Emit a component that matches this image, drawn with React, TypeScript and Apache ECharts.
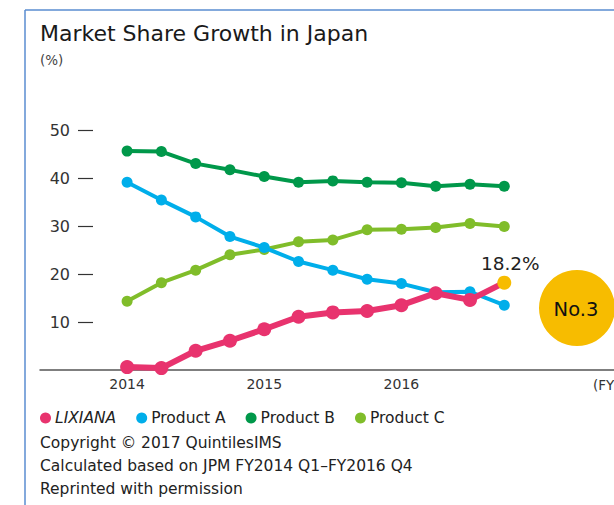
import React, { useEffect, useRef } from "react";
import * as echarts from "echarts";

const quarters = [0, 1, 2, 3, 4, 5, 6, 7, 8, 9, 10, 11];
const yearLabels = ["2014", "2015", "2016"];
const yTicks = [10, 20, 30, 40, 50];
const lixiana = [0.6, 0.4, 4.0, 6.1, 8.5, 11.1, 12.0, 12.3, 13.5, 16.0, 14.6, 18.2];
const productA = [39.1, 35.4, 31.9, 27.8, 25.5, 22.6, 20.8, 18.9, 18.0, 16.2, 16.3, 13.5];
const productB = [45.6, 45.5, 43.0, 41.7, 40.3, 39.1, 39.4, 39.1, 39.0, 38.3, 38.7, 38.3];
const productC = [14.3, 18.2, 20.8, 24.0, 25.1, 26.7, 27.1, 29.2, 29.3, 29.7, 30.5, 29.9];
const footnotes = [
  "Copyright © 2017 QuintilesIMS",
  "Calculated based on JPM FY2014 Q1–FY2016 Q4",
  "Reprinted with permission",
];

const FONT = "DejaVu Sans";
const PINK = "#e8336e";
const BLUE = "#00aeea";
const DGREEN = "#00984a";
const LGREEN = "#80bd2a";
const YELLOW = "#f7bc00";

function pairs(vals: number[]) {
  return vals.map((v, i) => [quarters[i], v]);
}

export default function App() {
  const ref = useRef<HTMLDivElement>(null);
  useEffect(() => {
    if (!ref.current) return;
    const chart = echarts.init(ref.current, undefined, { renderer: "svg" });
    const lixData: any[] = pairs(lixiana);
    const last = lixData.length - 1;
    lixData[last] = {
      value: lixData[last],
      itemStyle: { color: YELLOW },
      label: {
        show: true,
        position: "top",
        offset: [6, 2],
        formatter: (p: any) => p.value[1].toFixed(1) + "%",
        fontSize: 18.5,
        color: "#222",
        fontFamily: FONT,
      },
    };
    const mk = (name: string, color: string, data: any[], lw: number, ss: number, z: number) => ({
      name,
      type: "line",
      xAxisIndex: 0,
      yAxisIndex: 0,
      data,
      z,
      symbol: "circle",
      symbolSize: ss,
      showSymbol: true,
      lineStyle: { color, width: lw },
      itemStyle: { color },
      emphasis: { disabled: true },
    });
    chart.setOption({
      animation: false,
      textStyle: { fontFamily: FONT },
      title: {
        text: "Market Share Growth in Japan",
        left: 40,
        top: 22,
        padding: 0,
        textStyle: { fontSize: 22, fontWeight: "normal", color: "#1a1a1a", fontFamily: FONT },
      },
      grid: [
        { left: 40, right: 0, top: 130, height: 240 },
        { left: 93, right: 0, top: 130, height: 240 },
      ],
      legend: {
        left: 40,
        top: 410,
        padding: 0,
        itemWidth: 11,
        itemHeight: 11,
        itemGap: 20,
        icon: "circle",
        textStyle: { fontSize: 15.5, color: "#222", fontFamily: FONT, padding: [0, 0, 0, -1] },
        data: [
          { name: "LIXIANA", textStyle: { fontStyle: "italic" } },
          { name: "Product A" },
          { name: "Product B" },
          { name: "Product C" },
        ],
      },
      xAxis: [
        {
          gridIndex: 0,
          type: "value",
          min: -2.54,
          max: 14.2,
          splitLine: { show: false },
          axisLine: { show: true, lineStyle: { color: "#555", width: 1.5 } },
          axisTick: { show: false },
          axisLabel: {
            customValues: [0, 4, 8],
            formatter: (v: number) => yearLabels[Math.round(v / 4)] ?? "",
            fontSize: 14,
            color: "#333",
            margin: 7,
            fontFamily: FONT,
          },
        },
        { gridIndex: 1, type: "value", show: false },
      ],
      yAxis: [
        {
          gridIndex: 0,
          type: "value",
          min: 0,
          max: 50,
          show: false,
        },
        {
          gridIndex: 1,
          type: "value",
          min: 0,
          max: 50,
          splitLine: { show: false },
          axisLine: { show: false },
          axisTick: {
            show: true,
            customValues: yTicks,
            length: 15,
            lineStyle: { color: "#333", width: 1.2 },
          },
          axisLabel: {
            customValues: yTicks,
            fontSize: 16,
            color: "#333",
            margin: 23,
            fontFamily: FONT,
          },
        },
      ],
      series: [
        mk("Product B", DGREEN, pairs(productB), 4, 11, 2),
        mk("Product C", LGREEN, pairs(productC), 4, 11, 3),
        mk("Product A", BLUE, pairs(productA), 4, 11, 4),
        mk("LIXIANA", PINK, lixData, 6, 14, 5),
      ],
      graphic: [
        { type: "line", shape: { x1: 25, y1: 10, x2: 25, y2: 505 }, style: { stroke: "#5a8dd0", lineWidth: 1.5 } },
        { type: "line", shape: { x1: 25, y1: 10, x2: 614, y2: 10 }, style: { stroke: "#5a8dd0", lineWidth: 1.5 } },
        {
          type: "text",
          x: 40,
          y: 60,
          style: { text: "(%)", fontSize: 13.5, fill: "#444", fontFamily: FONT, verticalAlign: "middle" },
        },
        {
          type: "text",
          x: 593,
          y: 385,
          style: { text: "(FY)", fontSize: 13.5, fill: "#333", fontFamily: FONT, verticalAlign: "middle" },
        },
        { type: "circle", shape: { cx: 577, cy: 308, r: 38 }, style: { fill: YELLOW } },
        {
          type: "text",
          x: 576,
          y: 309,
          style: { text: "No.3", fontSize: 19.5, fill: "#111", fontFamily: FONT, align: "center", verticalAlign: "middle" },
        },
        ...footnotes.map((t, i) => ({
          type: "text",
          x: 40,
          y: 443 + i * 23,
          style: { text: t, fontSize: 15.5, fill: "#222", fontFamily: FONT, verticalAlign: "middle" },
        })),
      ],
    });
    return () => chart.dispose();
  }, []);
  return <div ref={ref} style={{ position: "absolute", left: 0, top: 0, width: 614, height: 505 }} />;
}
